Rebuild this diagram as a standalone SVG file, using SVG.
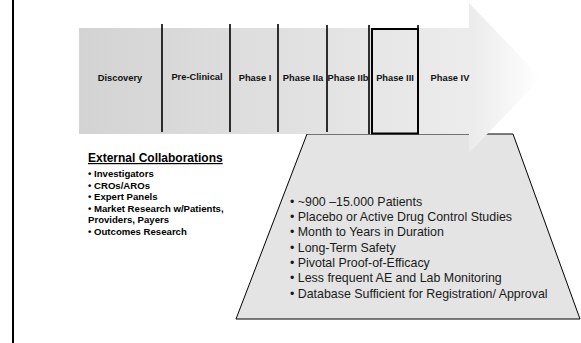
<svg xmlns="http://www.w3.org/2000/svg" width="581" height="343" viewBox="0 0 581 343">
<defs>
<linearGradient id="bandGrad" x1="79" y1="0" x2="469" y2="0" gradientUnits="userSpaceOnUse">
<stop offset="0" stop-color="#d3d3d3"/>
<stop offset="1" stop-color="#ececec"/>
</linearGradient>
<linearGradient id="arrowGrad" x1="469" y1="0" x2="541" y2="0" gradientUnits="userSpaceOnUse">
<stop offset="0" stop-color="#ebebeb"/>
<stop offset="1" stop-color="#ffffff"/>
</linearGradient>
<style>
.lbl{font-family:"Liberation Sans",Arial,sans-serif;font-weight:bold;font-size:9.3px;fill:#111;text-anchor:middle}
.div{stroke:#000;stroke-width:1.6}
.ext{font-family:"Liberation Sans",Arial,sans-serif;font-weight:bold;font-size:9.6px;fill:#000}
.tr{font-family:"Liberation Sans",Arial,sans-serif;font-size:12.4px;fill:#1a1a1a}
</style>
</defs>
<rect width="581" height="343" fill="#fff"/>
<line x1="13" y1="0" x2="13" y2="343" stroke="#000" stroke-width="2"/>

<g id="trapezoid">
<polygon points="307,134 513,134 580,319 236,319" fill="#e4e4e4" stroke="#000" stroke-width="1"/>
<text class="tr" x="290" y="206">• ~900 –15.000 Patients</text>
<text class="tr" x="290" y="221">• Placebo or Active Drug Control Studies</text>
<text class="tr" x="290" y="236">• Month to Years in Duration</text>
<text class="tr" x="290" y="252">• Long-Term Safety</text>
<text class="tr" x="290" y="267">• Pivotal Proof-of-Efficacy</text>
<text class="tr" x="290" y="282">• Less frequent AE and Lab Monitoring</text>
<text class="tr" x="290" y="298">• Database Sufficient for Registration/ Approval</text>
</g>

<g id="band">
<rect x="79" y="28" width="390" height="106" fill="url(#bandGrad)"/>
</g>
<g id="arrowhead">
<polygon points="469,3 541,78 469,153" fill="url(#arrowGrad)"/>
</g>

<g id="connectors">
<line class="div" x1="162" y1="24" x2="162" y2="132"/>
<line class="div" x1="230" y1="24" x2="230" y2="132"/>
<line class="div" x1="278" y1="24" x2="278" y2="132"/>
<line class="div" x1="327" y1="25" x2="327" y2="132"/>
<line class="div" x1="369" y1="25" x2="369" y2="134"/>
<line class="div" x1="418" y1="25" x2="418" y2="134"/>
</g>

<g id="phase3box">
<rect x="372" y="29" width="46" height="104.5" fill="none" stroke="#000" stroke-width="2"/>
</g>

<g id="discovery"><text class="lbl" x="120" y="81">Discovery</text></g>
<g id="preclinical"><text class="lbl" x="197" y="80">Pre-Clinical</text></g>
<g id="phase1"><text class="lbl" x="255" y="81">Phase I</text></g>
<g id="phase2a"><text class="lbl" x="303" y="81">Phase IIa</text></g>
<g id="phase2b"><text class="lbl" x="348" y="81">Phase IIb</text></g>
<g id="phase3"><text class="lbl" x="395" y="81">Phase III</text></g>
<g id="phase4"><text class="lbl" x="450" y="81">Phase IV</text></g>

<g id="external">
<text x="88" y="162" font-family="Liberation Sans, Arial, sans-serif" font-weight="bold" font-size="12px" text-decoration="underline" fill="#000">External Collaborations</text>
<text class="ext" x="88" y="177">• Investigators</text>
<text class="ext" x="88" y="189">• CROs/AROs</text>
<text class="ext" x="88" y="200">• Expert Panels</text>
<text class="ext" x="88" y="212">• Market Research w/Patients,</text>
<text class="ext" x="88" y="223">Providers, Payers</text>
<text class="ext" x="88" y="235">• Outcomes Research</text>
</g>
</svg>
